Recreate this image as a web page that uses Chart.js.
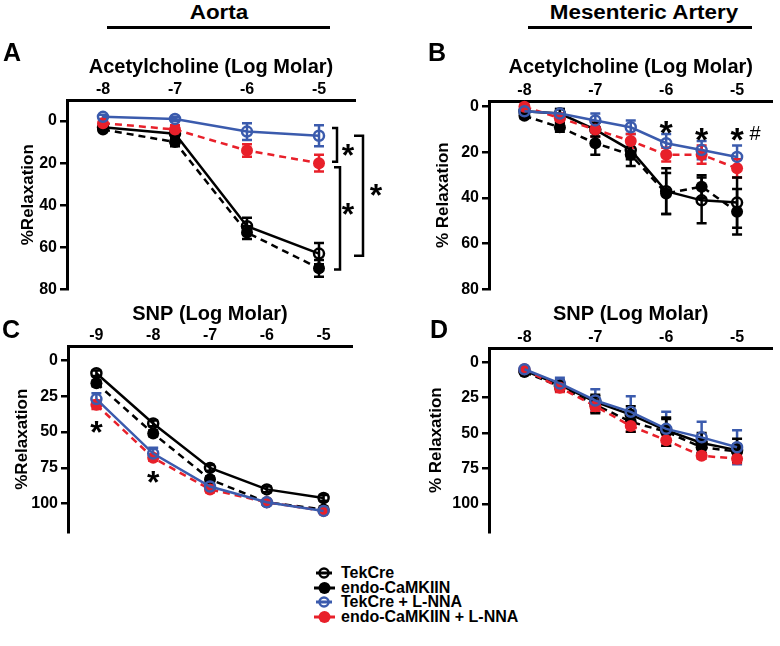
<!DOCTYPE html>
<html>
<head>
<meta charset="utf-8">
<script src="https://cdn.jsdelivr.net/npm/chart.js@4.4.0/dist/chart.umd.min.js"></script>
<style>
  body { margin: 0; background: #fff; }
  #fig { position: relative; width: 780px; height: 646px; overflow: hidden; font-family: "Liberation Sans", Arial, sans-serif; }
  #fig canvas { position: absolute; }
  .hdr { position: absolute; width: 300px; text-align: center; font-weight: bold; font-size: 20px; line-height: 20px; transform: scaleX(1.12); }
  .rule { position: absolute; height: 3px; background: #000; }
  .lbl { position: absolute; font-weight: bold; font-size: 25px; line-height: 25px; }
  #legend { position: absolute; left: 313px; top: 566px; font-weight: bold; font-size: 16px; }
  #legend div { height: 14.5px; line-height: 14.5px; display: flex; align-items: center; }
  #legend svg { width: 24px; height: 14px; margin-right: 4px; }
</style>
</head>
<body>
<div id="fig">
  <div class="hdr" style="left:69px;top:2px">Aorta</div>
  <div class="rule" style="left:107px;top:26px;width:223px"></div>
  <div class="hdr" style="left:494px;top:2px">Mesenteric Artery</div>
  <div class="rule" style="left:528px;top:26px;width:224px"></div>

  <canvas id="chA" width="390" height="262" style="left:0;top:40px"></canvas>
  <canvas id="chB" width="390" height="262" style="left:390px;top:40px"></canvas>
  <canvas id="chC" width="390" height="245" style="left:0;top:300px"></canvas>
  <canvas id="chD" width="390" height="245" style="left:390px;top:300px"></canvas>

  <div class="lbl" style="left:3px;top:40px">A</div>
  <div class="lbl" style="left:428px;top:40px">B</div>
  <div class="lbl" style="left:2px;top:317px">C</div>
  <div class="lbl" style="left:430px;top:317px">D</div>

  <div id="legend">
    <div><svg viewBox="0 0 24 14"><line x1="3" y1="7" x2="19" y2="7" stroke="#000" stroke-width="3"/><circle cx="11" cy="7" r="4.5" fill="none" stroke="#000" stroke-width="2.5"/></svg>TekCre</div>
    <div><svg viewBox="0 0 24 14"><line x1="1" y1="7" x2="22" y2="7" stroke="#000" stroke-width="3"/><circle cx="11.5" cy="7" r="6" fill="#000"/></svg>endo-CaMKIIN</div>
    <div><svg viewBox="0 0 24 14"><line x1="3" y1="7" x2="19" y2="7" stroke="#3b5bad" stroke-width="3"/><circle cx="11" cy="7" r="4.5" fill="none" stroke="#3b5bad" stroke-width="2.5"/></svg>TekCre + L-NNA</div>
    <div><svg viewBox="0 0 24 14"><line x1="1" y1="7" x2="22" y2="7" stroke="#e8202a" stroke-width="3"/><circle cx="11.5" cy="7" r="6" fill="#e8202a"/></svg>endo-CaMKIIN + L-NNA</div>
  </div>
</div>

<script>
const FONT = '"Liberation Sans", Arial, sans-serif';
const BLACK = '#000000';
const BLUE = '#3b5bad';
const RED = '#e8202a';

// A: aorta, acetylcholine
const aDose = [-8, -7, -6, -5];
const aTekCre = [3, 6, 50, 63];
const aTekCreErr = [1, 1, 4, 5];
const aEndo = [4, 10, 53, 70];
const aEndoErr = [1, 2, 3, 4];
const aTekLNNA = [-2, -1, 5, 7];
const aTekLNNAErr = [1, 1, 4, 5];
const aEndoLNNA = [1, 4, 14, 20];
const aEndoLNNAErr = [1, 2, 3, 4];

// B: mesenteric artery, acetylcholine
const bDose = [-8, -7.5, -7, -6.5, -6, -5.5, -5];
const bTekCre = [2, 3, 10, 19, 37, 41, 42];
const bTekCreErr = [1, 2, 3, 4, 10, 10, 11];
const bEndo = [4, 9, 16, 21, 38, 35, 46];
const bEndoErr = [1, 2, 5, 5, 9, 5, 10];
const bTekLNNA = [2, 3, 6, 9, 16, 19, 22];
const bTekLNNAErr = [1, 2, 3, 3, 4, 4, 5];
const bEndoLNNA = [0, 5, 10, 15, 21, 21, 27];
const bEndoLNNAErr = [1, 2, 3, 3, 3, 4, 4];

// C: aorta, SNP
const cDose = [-9, -8, -7, -6, -5];
const cTekCre = [9, 44, 75, 90, 96];
const cTekCreErr = [2, 2, 2, 2, 2];
const cEndo = [16, 51, 83, 99, 104];
const cEndoErr = [2, 2, 2, 1, 1];
const cTekLNNA = [27, 65, 88, 99, 105];
const cTekLNNAErr = [4, 4, 2, 1, 1];
const cEndoLNNA = [31, 68, 90, 99, 105];
const cEndoLNNAErr = [3, 2, 2, 1, 1];

// D: mesenteric artery, SNP
const dDose = [-8, -7.5, -7, -6.5, -6, -5.5, -5];
const dTekCre = [6, 16, 28, 37, 48, 57, 62];
const dTekCreErr = [1, 3, 5, 6, 8, 7, 8];
const dEndo = [7, 17, 30, 42, 49, 60, 63];
const dEndoErr = [1, 3, 6, 7, 10, 5, 5];
const dTekLNNA = [5, 15, 27, 35, 47, 53, 60];
const dTekLNNAErr = [1, 4, 8, 11, 12, 11, 12];
const dEndoLNNA = [5, 18, 31, 45, 55, 66, 68];
const dEndoLNNAErr = [1, 3, 4, 4, 4, 2, 3];

const achTicks = [-8, -7, -6, -5];
const snpTicksC = [-9, -8, -7, -6, -5];
const relaxTicks80 = [0, 20, 40, 60, 80];
const relaxTicks100 = [0, 25, 50, 75, 100];

function pts(xs, ys) { return xs.map((x, i) => ({ x: x, y: ys[i] })); }

function series(label, xs, ys, errs, color, filled) {
  return {
    label: label,
    data: pts(xs, ys),
    errs: errs,
    borderColor: color,
    borderWidth: 2.5,
    borderDash: filled ? [7, 5] : [],
    pointRadius: filled ? 6 : 5,
    pointBorderWidth: filled ? 0 : 2.5,
    pointBackgroundColor: filled ? color : 'rgba(0,0,0,0)',
    pointBorderColor: color,
    tension: 0,
    clip: false
  };
}

function groups(xs, tek, tekE, endo, endoE, tekL, tekLE, endoL, endoLE) {
  return [
    series('TekCre + L-NNA', xs, tekL, tekLE, BLUE, false),
    series('endo-CaMKIIN + L-NNA', xs, endoL, endoLE, RED, true),
    series('TekCre', xs, tek, tekE, BLACK, false),
    series('endo-CaMKIIN', xs, endo, endoE, BLACK, true)
  ];
}

// vertical SEM bars with caps
const errorBars = {
  id: 'errorBars',
  beforeDatasetsDraw(chart) {
    const ctx = chart.ctx;
    const y = chart.scales.y;
    chart.data.datasets.forEach((ds, i) => {
      const meta = chart.getDatasetMeta(i);
      ctx.save();
      ctx.strokeStyle = ds.borderColor;
      ctx.lineWidth = 2.5;
      meta.data.forEach((p, j) => {
        const e = ds.errs[j];
        if (!e) return;
        const v = ds.data[j].y;
        const y1 = y.getPixelForValue(v - e), y2 = y.getPixelForValue(v + e);
        ctx.beginPath();
        ctx.moveTo(p.x, y1); ctx.lineTo(p.x, y2);
        ctx.moveTo(p.x - 5, y1); ctx.lineTo(p.x + 5, y1);
        ctx.moveTo(p.x - 5, y2); ctx.lineTo(p.x + 5, y2);
        ctx.stroke();
      });
      ctx.restore();
    });
  }
};

function star(ctx, x, y, size) {
  ctx.save();
  ctx.fillStyle = '#000';
  ctx.font = 'bold ' + size + 'px ' + FONT;
  ctx.textAlign = 'center';
  ctx.textBaseline = 'alphabetic';
  ctx.fillText('*', x, y + size * 0.56);
  ctx.restore();
}

function bracket(ctx, x, y1, y2, w) {
  ctx.beginPath();
  ctx.moveTo(x - w, y1); ctx.lineTo(x, y1); ctx.lineTo(x, y2); ctx.lineTo(x - w, y2);
  ctx.stroke();
}

// significance brackets, panel A (y ranges in % relaxation)
const aBrackets = [[3.3, 19.3], [22, 70.6], [7, 64]];
const aortaMarks = {
  id: 'aortaMarks',
  afterDraw(chart) {
    const { ctx, scales: { x, y } } = chart;
    const x5 = x.getPixelForValue(-5);
    ctx.save();
    ctx.strokeStyle = '#000';
    ctx.lineWidth = 2.5;
    bracket(ctx, x5 + 18, y.getPixelForValue(aBrackets[0][0]), y.getPixelForValue(aBrackets[0][1]), 5);
    bracket(ctx, x5 + 21, y.getPixelForValue(aBrackets[1][0]), y.getPixelForValue(aBrackets[1][1]), 6);
    bracket(ctx, x5 + 44, y.getPixelForValue(aBrackets[2][0]), y.getPixelForValue(aBrackets[2][1]), 9);
    ctx.restore();
    star(ctx, x5 + 29, y.getPixelForValue(13), 32);
    star(ctx, x5 + 29, y.getPixelForValue(41), 32);
    star(ctx, x5 + 57, y.getPixelForValue(32), 32);
  }
};

const mesMarks = {
  id: 'mesMarks',
  afterDraw(chart) {
    const { ctx, scales: { x, y } } = chart;
    star(ctx, x.getPixelForValue(-6), y.getPixelForValue(8), 34);
    star(ctx, x.getPixelForValue(-5.5), y.getPixelForValue(11), 34);
    star(ctx, x.getPixelForValue(-5), y.getPixelForValue(11), 34);
    ctx.save();
    ctx.fillStyle = '#000';
    ctx.font = '20px ' + FONT;
    ctx.textAlign = 'center';
    ctx.textBaseline = 'middle';
    ctx.fillText('#', x.getPixelForValue(-5) + 18, y.getPixelForValue(12));
    ctx.restore();
  }
};

const snpMarks = {
  id: 'snpMarks',
  afterDraw(chart) {
    const { ctx, scales: { x, y } } = chart;
    star(ctx, x.getPixelForValue(-9), y.getPixelForValue(45), 32);
    star(ctx, x.getPixelForValue(-8), y.getPixelForValue(80), 32);
  }
};

function panel(id, o) {
  return new Chart(document.getElementById(id), {
    type: 'line',
    data: { datasets: o.sets },
    options: {
      responsive: false,
      animation: false,
      layout: { padding: o.pad },
      plugins: { legend: { display: false }, tooltip: { enabled: false } },
      scales: {
        x: {
          type: 'linear', position: 'top', min: o.xMin, max: o.xMax,
          afterBuildTicks: s => { s.ticks = o.xTicks.map(v => ({ value: v })); },
          afterFit: s => { s.height = o.xH; },
          ticks: { color: '#000', padding: 1, font: { family: FONT, size: 16, weight: 'bold' }, callback: v => String(v) },
          grid: { display: true, drawOnChartArea: false, drawTicks: false, color: '#000' },
          border: { color: '#000', width: 3 },
          title: { display: true, text: o.xTitle, color: '#000', padding: { top: o.xTitlePad, bottom: 0 },
                   font: { family: FONT, size: 20, weight: 'bold' } }
        },
        y: {
          type: 'linear', reverse: true, min: o.yMin, max: o.yMax,
          afterBuildTicks: s => { s.ticks = o.yTicks.map(v => ({ value: v })); },
          afterFit: s => { s.width = o.yW; },
          ticks: { color: '#000', padding: 3, font: { family: FONT, size: 16, weight: 'bold' } },
          grid: { display: true, drawOnChartArea: false, drawTicks: true, tickLength: 7, color: '#000', lineWidth: 2.5 },
          border: { color: '#000', width: 3 },
          title: { display: true, text: o.yTitle, color: '#000', padding: { top: o.yTitlePad, bottom: 0 },
                   font: { family: FONT, size: 17, weight: 'bold' } }
        }
      }
    },
    plugins: [errorBars, o.extra]
  });
}

panel('chA', {
  sets: groups(aDose, aTekCre, aTekCreErr, aEndo, aEndoErr, aTekLNNA, aTekLNNAErr, aEndoLNNA, aEndoLNNAErr),
  pad: { left: 0, top: 0, right: 35, bottom: 11 },
  xMin: -8.5, xMax: -4.5, xTicks: achTicks, xH: 60, xTitle: 'Acetylcholine (Log Molar)', xTitlePad: 15,
  yMin: -10, yMax: 80, yTicks: relaxTicks80, yW: 67, yTitle: '%Relaxation', yTitlePad: 18,
  extra: aortaMarks
});

panel('chB', {
  sets: groups(bDose, bTekCre, bTekCreErr, bEndo, bEndoErr, bTekLNNA, bTekLNNAErr, bEndoLNNA, bEndoLNNAErr),
  pad: { left: 0, top: 0, right: 2, bottom: 9 },
  xMin: -8.5, xMax: -4.5, xTicks: achTicks, xH: 61, xTitle: 'Acetylcholine (Log Molar)', xTitlePad: 15,
  yMin: -2.5, yMax: 80, yTicks: relaxTicks80, yW: 99, yTitle: '% Relaxation', yTitlePad: 43,
  extra: mesMarks
});

panel('chC', {
  sets: groups(cDose, cTekCre, cTekCreErr, cEndo, cEndoErr, cTekLNNA, cTekLNNAErr, cEndoLNNA, cEndoLNNAErr),
  pad: { left: 0, top: 0, right: 38, bottom: 8 },
  xMin: -9.5, xMax: -4.5, xTicks: snpTicksC, xH: 46, xTitle: 'SNP (Log Molar)', xTitlePad: 2,
  yMin: -10, yMax: 120, yTicks: relaxTicks100, yW: 68, yTitle: '%Relaxation', yTitlePad: 12,
  extra: snpMarks
});

panel('chD', {
  sets: groups(dDose, dTekCre, dTekCreErr, dEndo, dEndoErr, dTekLNNA, dTekLNNAErr, dEndoLNNA, dEndoLNNAErr),
  pad: { left: 0, top: 0, right: 7, bottom: 7 },
  xMin: -8.5, xMax: -4.5, xTicks: achTicks, xH: 48, xTitle: 'SNP (Log Molar)', xTitlePad: 2,
  yMin: -10, yMax: 120, yTicks: relaxTicks100, yW: 99, yTitle: '% Relaxation', yTitlePad: 36,
  extra: { id: 'none' }
});
</script>
</body>
</html>
